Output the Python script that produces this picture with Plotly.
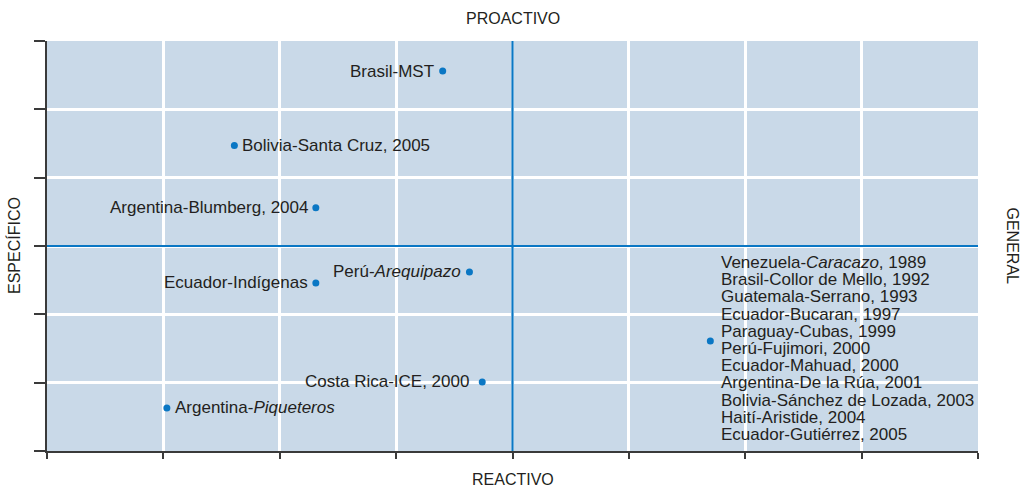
import plotly.graph_objects as go

# --- data ---
case_labels = [
    "Brasil-MST",
    "Bolivia-Santa Cruz, 2005",
    "Argentina-Blumberg, 2004",
    "Perú-<i>Arequipazo</i>",
    "Ecuador-Indígenas",
    "Costa Rica-ICE, 2000",
    "Argentina-<i>Piqueteros</i>",
]
case_x = [3.40, 1.61, 2.31, 3.63, 2.31, 3.74, 1.03]
case_y = [5.56, 4.47, 3.56, 2.62, 2.46, 1.01, 0.63]
case_side = ["left", "right", "left", "left", "left", "left", "right"]

general_x = 5.70
general_y = 1.61
general_labels = [
    "Venezuela-<i>Caracazo</i>, 1989",
    "Brasil-Collor de Mello, 1992",
    "Guatemala-Serrano, 1993",
    "Ecuador-Bucaran, 1997",
    "Paraguay-Cubas, 1999",
    "Perú-Fujimori, 2000",
    "Ecuador-Mahuad, 2000",
    "Argentina-De la Rúa, 2001",
    "Bolivia-Sánchez de Lozada, 2003",
    "Haití-Aristide, 2004",
    "Ecuador-Gutiérrez, 2005",
]

axis_titles = {"top": "PROACTIVO", "bottom": "REACTIVO", "left": "ESPECÍFICO", "right": "GENERAL"}

x_range = [0, 8]
y_range = [0, 6]
x_mid = 4
y_mid = 3

# --- style ---
FONT = "Liberation Sans, Arial, Helvetica, sans-serif"
TXT = "#231f20"
BLUE = "#0a77c4"
BG = "#c9d9e8"
FS = 17
label_gap = [7, 6, 6, 6, 6, 11, 6]

fig = go.Figure()

fig.add_trace(go.Scatter(
    x=case_x + [general_x], y=case_y + [general_y], mode="markers",
    marker=dict(size=7, color=BLUE), hoverinfo="skip", showlegend=False,
))

annotations = []
for lab, x, y, side, gap in zip(case_labels, case_x, case_y, case_side, label_gap):
    annotations.append(dict(
        x=x, y=y, xref="x", yref="y", text=lab, showarrow=False,
        xanchor="right" if side == "left" else "left", yanchor="middle",
        xshift=-gap if side == "left" else gap,
        font=dict(family=FONT, size=FS, color=TXT),
    ))

n = len(general_labels)
line_h = 17.2
for i, lab in enumerate(general_labels):
    annotations.append(dict(
        x=general_x, y=general_y, xref="x", yref="y", text=lab, showarrow=False,
        xanchor="left", yanchor="middle", xshift=9,
        yshift=-((i - (n - 1) / 2) * line_h + 7.5),
        font=dict(family=FONT, size=FS, color=TXT),
    ))

annotations += [
    dict(x=0.5, y=1, xref="paper", yref="paper", yanchor="bottom", yshift=12,
         text=axis_titles["top"], showarrow=False, font=dict(family=FONT, size=16, color=TXT)),
    dict(x=0.5, y=0, xref="paper", yref="paper", yanchor="top", yshift=-18,
         text=axis_titles["bottom"], showarrow=False, font=dict(family=FONT, size=16, color=TXT)),
    dict(x=0, y=0.5, xref="paper", yref="paper", xanchor="right", xshift=-22,
         text=axis_titles["left"], showarrow=False, textangle=-90,
         font=dict(family=FONT, size=16, color=TXT)),
    dict(x=1, y=0.5, xref="paper", yref="paper", xanchor="left", xshift=24,
         text=axis_titles["right"], showarrow=False, textangle=90,
         font=dict(family=FONT, size=16, color=TXT)),
]

shapes = [
    dict(type="line", xref="x", yref="paper", x0=x_mid, x1=x_mid, y0=0, y1=1,
         line=dict(color=BLUE, width=2.2), layer="above"),
    dict(type="line", xref="paper", yref="y", x0=0, x1=1, y0=y_mid, y1=y_mid,
         line=dict(color=BLUE, width=2.2), layer="above"),
]

fig.update_layout(
    width=1024, height=487,
    margin=dict(l=47, r=46, t=41, b=36),
    paper_bgcolor="white", plot_bgcolor=BG,
    annotations=annotations, shapes=shapes,
    showlegend=False,
)
fig.update_xaxes(
    range=x_range, dtick=1, tick0=0, showticklabels=False, automargin=False,
    showgrid=True, gridcolor="white", gridwidth=2.5, zeroline=False,
    showline=True, linecolor="#3a3a3a", linewidth=2,
    ticks="outside", ticklen=6, tickwidth=1.5, tickcolor="#3a3a3a",
)
fig.update_yaxes(
    range=y_range, dtick=1, tick0=0, showticklabels=False, automargin=False,
    showgrid=True, gridcolor="white", gridwidth=2.5, zeroline=False,
    showline=True, linecolor="#3a3a3a", linewidth=1.5,
    ticks="outside", ticklen=11, tickwidth=1.5, tickcolor="#3a3a3a",
)

fig.write_html(
    "out.html",
    config={"displayModeBar": False},
    post_script="document.body.style.margin='0';document.body.style.overflow='hidden';",
)
